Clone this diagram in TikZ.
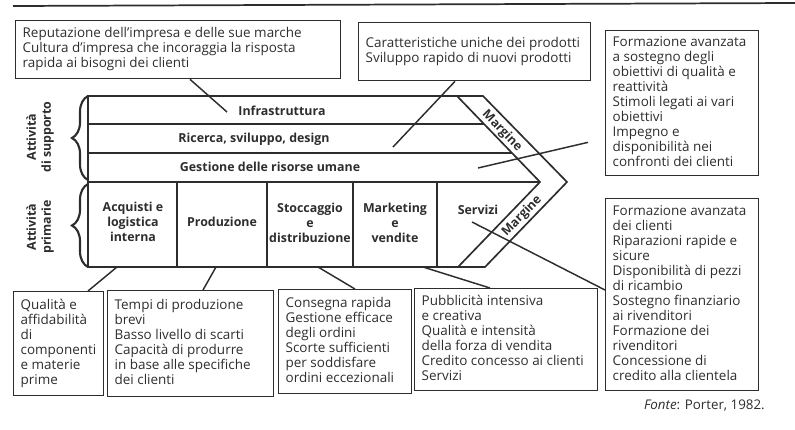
\documentclass[tikz,border=0pt]{standalone}
\usepackage{fontspec}
\setmainfont{Open Sans}
\usetikzlibrary{decorations.pathreplacing,calc}
\definecolor{ink}{RGB}{45,45,45}
\newcommand{\boxtxt}[2]{\makebox[#1][l]{\begin{tabular}{@{}l@{}}#2\end{tabular}}}
\begin{document}
\begin{tikzpicture}[x=0.75pt,y=-0.75pt,
  every node/.style={text=ink},
  box/.style={draw=ink, line width=1pt, inner xsep=5.25pt, inner ysep=0pt, anchor=north west, font=\fontsize{10.1}{11.25}\selectfont},
  lbl/.style={font=\bfseries\fontsize{9.3}{11.25}\selectfont, align=center, inner sep=0pt},
  chain/.style={draw=ink, line width=1.25pt, line join=miter},
  link/.style={draw=ink, line width=1.1pt},
  brc/.style={draw=ink, line width=1.6pt, decorate, decoration={brace, amplitude=12pt}}]
\useasboundingbox (0,0) rectangle (795,429);
% top rule
\draw[ink, line width=1.3pt] (13,6) -- (795,3);
% boxes
\node[box, minimum height=43.5pt] (tl) at (15,20) {\boxtxt{233.25pt}{Reputazione dell’impresa e delle sue marche\\Cultura d’impresa che incoraggia la risposta\\rapida ai bisogni dei clienti}};
\node[box, minimum height=43.5pt] (tm) at (358,22) {\boxtxt{163.5pt}{Caratteristiche uniche dei prodotti\\Sviluppo rapido di nuovi prodotti}};
\node[box, minimum height=108.75pt] (rt) at (605,30) {\boxtxt{104.25pt}{Formazione avanzata\\a sostegno degli\\obiettivi di qualità e\\reattività\\Stimoli legati ai vari\\obiettivi\\Impegno e\\disponibilità nei\\confronti dei clienti}};
\node[box, minimum height=144pt] (rb) at (605,198) {\boxtxt{104.25pt}{Formazione avanzata\\dei clienti\\Riparazioni rapide e\\sicure\\Disponibilità di pezzi\\di ricambio\\Sostegno finanziario\\ai rivenditori\\Formazione dei\\rivenditori\\Concessione di\\credito alla clientela}};
\node[box, minimum height=78pt] (b1) at (13,291) {\boxtxt{57pt}{Qualità e\\affidabilità\\di\\componenti\\e materie\\prime}};
\node[box, minimum height=79.5pt] (b2) at (107,290) {\boxtxt{114pt}{Tempi di produzione\\brevi\\Basso livello di scarti\\Capacità di produrre\\in base alle specifiche\\dei clienti}};
\node[box, minimum height=78pt] (b3) at (278,289) {\boxtxt{89.25pt}{Consegna rapida\\Gestione efficace\\degli ordini\\Scorte sufficienti\\per soddisfare\\ordini eccezionali}};
\node[box, minimum height=76.5pt] (b4) at (414,288) {\boxtxt{126.75pt}{Pubblicità intensiva\\e creativa\\Qualità e intensità\\della forza di vendita\\Credito concesso ai clienti\\Servizi}};
% value chain
\draw[chain] (88,96) -- (483,96) -- (567,182) -- (485,267) -- (88,267) -- cycle;
\draw[chain] (457,96) -- (540,182) -- (458,267);
\draw[chain] (88,124) -- (484,124);
\draw[chain] (88,153) -- (512,153);
\draw[chain] (88,182) -- (540,182);
\foreach \xx in {177,267,353,437} \draw[chain] (\xx,182) -- (\xx,267);
\draw[brc] (88,180) -- (88,96);
\draw[brc] (88,267) -- (88,184);
% labels
\node[lbl] (infra) at (282,111) {Infrastruttura};
\node[lbl] (rsd) at (254,139) {Ricerca, sviluppo, design};
\node[lbl] (gru) at (270,167) {Gestione delle risorse umane};
\node[lbl] (acq) at (133,222) {Acquisti e\\logistica\\interna};
\node[lbl] (prod) at (222,222) {Produzione};
\node[lbl] (stocc) at (310,223) {Stoccaggio\\e\\distribuzione};
\node[lbl] (mkt) at (395,223) {Marketing\\e\\vendite};
\node[lbl] (serv) at (478,210) {Servizi};
\node[lbl, rotate=-46] (m1) at (502,131) {Margine};
\node[lbl, rotate=46] (m2) at (522,216) {Margine};
\node[lbl, rotate=90] (sup) at (40,137) {Attività\\di supporto};
\node[lbl, rotate=90] (pri) at (40,227) {Attività\\primarie};
% connector end points
\coordinate (e-infra) at (227,112);
\coordinate (e-rsd) at (393,147);
\coordinate (e-gru) at (478,168);
\coordinate (e-serv) at (472,222);
\coordinate (e-acq) at (117,267);
\coordinate (e-prod) at (216,267);
\coordinate (e-stocc) at (318,267);
\coordinate (e-mkt) at (423,267);
\coordinate (e-rt) at ($(rt.south west)+(-17,-34)$);
% connectors
\draw[link] ($(tl.south west)+(175,0)$) -- (e-infra);
\draw[link] ($(tm.south west)+(97,0)$) -- (e-rsd);
\draw[link] (e-rt) -- (e-gru);
\draw[link] ($(rb.north west)+(0,92)$) -- (e-serv);
\draw[link] ($(b1.north west)+(75,0)$) -- (e-acq);
\draw[link] ($(b2.north west)+(96,0)$) -- (e-prod);
\draw[link] ($(b3.north west)+(77,0)$) -- (e-stocc);
\draw[link] ($(b4.north west)+(76,0)$) -- (e-mkt);
% source
\node[anchor=base east, inner sep=0pt, font=\fontsize{10}{12}\selectfont] (src) at (765,409) {\textit{Fonte}: Porter, 1982.};
\end{tikzpicture}
\end{document}
